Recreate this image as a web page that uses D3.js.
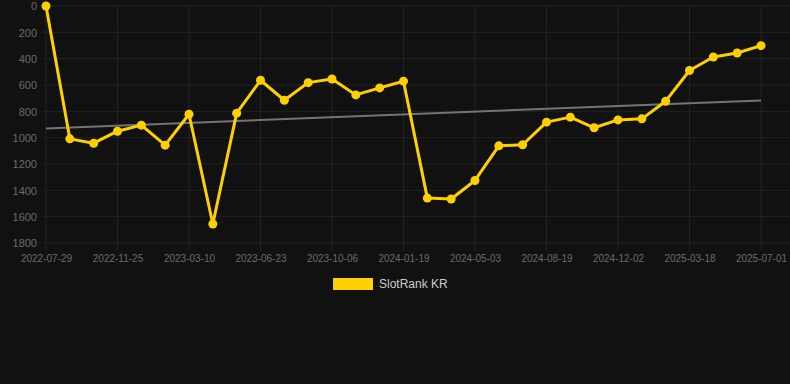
<!DOCTYPE html>
<html>
<head>
<meta charset="utf-8">
<script src="https://cdn.jsdelivr.net/npm/d3@7"></script>
<style>
  html, body { margin: 0; padding: 0; background: #111111; }
  #chart { width: 790px; height: 384px; }
  .tick text { fill: #6b6b6b; font-family: Arial, "Liberation Sans", sans-serif; font-size: 10px; }
  .y-axis .tick text { font-size: 11px; }
</style>
</head>
<body>
<div id="chart"></div>
<script>
// dates on the x axis (category axis, every 3rd one labelled)
const dates = [
  "2022-07-29", "2022-09-08", "2022-10-17", "2022-11-25", "2022-12-30", "2023-02-03",
  "2023-03-10", "2023-04-14", "2023-05-19", "2023-06-23", "2023-07-31", "2023-09-01",
  "2023-10-06", "2023-11-10", "2023-12-15", "2024-01-19", "2024-02-23", "2024-03-29",
  "2024-05-03", "2024-06-07", "2024-07-12", "2024-08-19", "2024-09-23", "2024-10-28",
  "2024-12-02", "2025-01-06", "2025-02-10", "2025-03-18", "2025-04-22", "2025-05-27",
  "2025-07-01"
];
const ranks = [
  0, 1009, 1042, 951, 905, 1057, 822, 1656, 814, 564, 716,
  582, 554, 675, 622, 571, 1459, 1466, 1325, 1062, 1054,
  882, 844, 925, 865, 857, 723, 490, 387, 357, 301
];
const yTicks = [0, 200, 400, 600, 800, 1000, 1200, 1400, 1600, 1800];
const seriesName = "SlotRank KR";

const width = 790, height = 384;
const margin = { top: 6, right: 29, bottom: 141, left: 46 };
const gold = "#ffd000";

const svg = d3.select("#chart")
  .append("svg")
  .attr("width", width)
  .attr("height", height);

svg.append("rect").attr("width", width).attr("height", height).attr("fill", "#111111");

const x = d3.scalePoint()
  .domain(dates)
  .range([margin.left, width - margin.right]);

// rank axis is reversed: 0 at the top
const y = d3.scaleLinear()
  .domain([0, 1800])
  .range([margin.top, height - margin.bottom]);

const labelDates = dates.filter((d, i) => i % 3 === 0);

// grid lines
svg.append("g")
  .selectAll("line")
  .data(yTicks)
  .join("line")
  .attr("x1", 43)
  .attr("x2", width)
  .attr("y1", (d) => y(d))
  .attr("y2", (d) => y(d))
  .attr("stroke", "#222222")
  .attr("stroke-width", 1);

svg.append("g")
  .selectAll("line")
  .data(labelDates)
  .join("line")
  .attr("x1", (d) => x(d))
  .attr("x2", (d) => x(d))
  .attr("y1", margin.top)
  .attr("y2", height - margin.bottom + 8)
  .attr("stroke", "#222222")
  .attr("stroke-width", 1);

// axes
const yAxis = svg.append("g")
  .attr("class", "y-axis")
  .attr("transform", `translate(${margin.left - 9},0)`)
  .call(d3.axisLeft(y).tickValues(yTicks).tickFormat(d3.format("d")).tickSize(0).tickPadding(0));
yAxis.select(".domain").remove();
yAxis.selectAll("text").attr("dy", "0.35em");

const xAxis = svg.append("g")
  .attr("transform", `translate(0,${height - margin.bottom + 10})`)
  .call(d3.axisBottom(x).tickValues(labelDates).tickSize(0).tickPadding(2));
xAxis.select(".domain").remove();

// trend line (least squares over the points)
const n = ranks.length;
const meanI = d3.mean(ranks, (d, i) => i);
const meanV = d3.mean(ranks);
const slope = d3.sum(ranks, (d, i) => (i - meanI) * (d - meanV)) /
  d3.sum(ranks, (d, i) => (i - meanI) * (i - meanI));
const trend = [0, n - 1].map((i) => ({ date: dates[i], v: meanV + slope * (i - meanI) }));

svg.append("path")
  .datum(trend)
  .attr("fill", "none")
  .attr("stroke", "#747474")
  .attr("stroke-width", 2)
  .attr("d", d3.line().x((d) => x(d.date)).y((d) => y(d.v)));

// series line
const data = dates.map((d, i) => ({ date: d, v: ranks[i] }));

svg.append("path")
  .datum(data)
  .attr("fill", "none")
  .attr("stroke", gold)
  .attr("stroke-width", 3)
  .attr("stroke-linejoin", "round")
  .attr("d", d3.line().x((d) => x(d.date)).y((d) => y(d.v)));

svg.append("g")
  .selectAll("circle")
  .data(data)
  .join("circle")
  .attr("cx", (d) => x(d.date))
  .attr("cy", (d) => y(d.v))
  .attr("r", 4.5)
  .attr("fill", gold);

// legend
const legend = svg.append("g").attr("transform", "translate(333,278)");
legend.append("rect")
  .attr("width", 40)
  .attr("height", 12)
  .attr("fill", gold);
legend.append("text")
  .attr("x", 46)
  .attr("y", 6)
  .attr("dy", "0.35em")
  .style("fill", "#cccccc")
  .style("font-family", "Arial, 'Liberation Sans', sans-serif")
  .style("font-size", "12px")
  .text(seriesName);
</script>
</body>
</html>
